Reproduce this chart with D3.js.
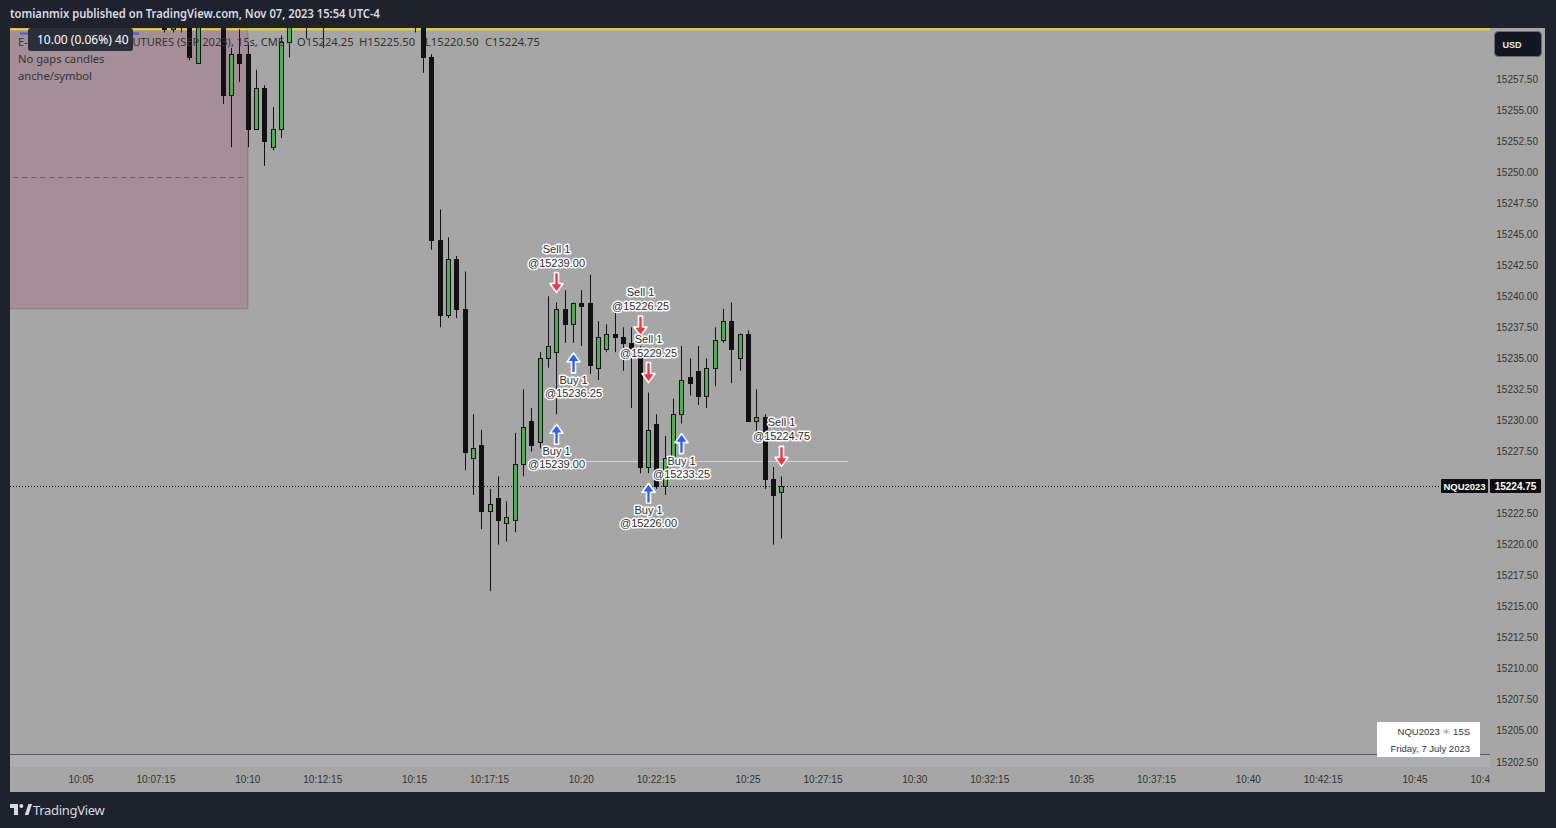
<!DOCTYPE html>
<html><head><meta charset="utf-8">
<script src="https://cdn.jsdelivr.net/npm/d3@7"></script>
<style>body{margin:0;background:#1e222d;} svg{display:block}</style>
</head><body><svg id="c" width="1556" height="828"></svg>
<script>
// ---------------- DATA ----------------
const barTimes = ["10:07:30","10:07:45","10:08:00","10:08:15","10:08:30","10:08:45","10:09:00","10:09:15","10:09:30","10:09:45",
"10:10:00","10:10:15","10:10:30","10:10:45","10:11:00","10:11:15","10:11:30","10:11:45","10:12:00","10:12:15",
"10:12:30","10:12:45","10:13:00","10:13:15","10:13:30","10:13:45","10:14:00","10:14:15","10:14:30","10:14:45",
"10:15:00","10:15:15","10:15:30","10:15:45","10:16:00","10:16:15","10:16:30","10:16:45","10:17:00","10:17:15",
"10:17:30","10:17:45","10:18:00","10:18:15","10:18:30","10:18:45","10:19:00","10:19:15","10:19:30","10:19:45",
"10:20:00","10:20:15","10:20:30","10:20:45","10:21:00","10:21:15","10:21:30","10:21:45","10:22:00","10:22:15",
"10:22:30","10:22:45","10:23:00","10:23:15","10:23:30","10:23:45","10:24:00","10:24:15","10:24:30","10:24:45",
"10:25:00","10:25:15","10:25:30","10:25:45","10:26:00"];
const opens = [15263.5,15261.5,15264,15262.5,15258.75,15262.75,15264,15263,15256.25,15259.5,
15259.5,15253.5,15256.75,15252,15253.5,15260.5,15263,15264.5,15263,15264,
15262.5,15265.5,15267.25,15266,15269,15268,15266.5,15267.75,15265.5,15264,
15265.75,15263.5,15259.25,15244.5,15238.5,15243,15239,15227,15228,15222.75,
15223.75,15221.75,15222,15226.5,15230,15228.25,15235,15235.5,15239,15237.75,
15239.5,15239.5,15234.25,15235.75,15237,15236.75,15236.25,15235.75,15226.25,15229.75,
15224.75,15227,15230.5,15233.5,15234,15232,15234.25,15236.5,15238,15235,
15237,15230,15230.25,15225.25,15224.25];
const highs = [15264.5,15264,15265,15263.5,15263.25,15265,15265.5,15263.5,15260,15261.5,
15260.25,15258.25,15257,15255.25,15261,15263.5,15265.5,15265,15265,15265.5,
15266,15268,15268.5,15269.5,15270.25,15269,15268.25,15268.75,15267,15266.25,
15266.5,15264.5,15259.5,15247,15244.75,15243.25,15242,15230.5,15229.25,15224.5,
15225.5,15223.5,15229,15232.5,15231,15235.5,15240,15239.5,15240.5,15239.5,
15240.5,15241.75,15238,15237.75,15238.75,15237.5,15237.5,15236,15232.25,15230.5,
15228.75,15231.75,15236,15235,15236,15235,15237.5,15239,15239.5,15237,
15237.25,15232.5,15230.5,15226.25,15225.5];
const lows = [15261.25,15261.25,15261.25,15259,15258.75,15262.25,15262,15255.5,15252,15257.25,
15252,15253.5,15250.5,15251.75,15252.75,15259.25,15262.5,15260.75,15262,15260,
15262,15264.75,15265.5,15265.75,15267.5,15266,15265.25,15265,15263.5,15262.75,
15261.25,15258,15243.75,15237.5,15238.25,15238.25,15226,15224,15221.25,15216.25,
15220,15220.25,15221,15225.5,15227.5,15227.75,15234.25,15230.5,15236.25,15236.25,
15236,15233.75,15233.25,15235.5,15235.5,15234,15231,15225.75,15225.75,15224.5,
15224,15226.5,15229.75,15232,15231.25,15231,15232.75,15236.25,15233,15234,
15230,15228.75,15224.5,15220,15220.5];
const closes = [15261.5,15263,15262.5,15259.25,15262.75,15264,15263,15256.25,15259.5,15258.75,
15253.5,15256.75,15252.5,15253.5,15260.5,15263,15264.5,15263,15264,15262.5,
15265.5,15267.25,15266,15269,15268,15266.5,15267.75,15265.5,15264,15265.75,
15263.5,15259.25,15244.5,15238.5,15243,15239,15227.5,15227.75,15222.75,15223.25,
15222,15222.25,15226.5,15229.5,15228,15235,15236,15239,15237.75,15239.5,
15239.25,15234.5,15236.75,15237,15236.75,15236.25,15235.75,15226.25,15229.25,15224.75,
15227,15230.5,15233.25,15233,15232,15234.25,15236.5,15238,15235.75,15237,
15230,15230.25,15225.25,15224,15224.75];

const tradeTimes  = ["10:19:15","10:19:15","10:19:45","10:21:45","10:22:00","10:22:00","10:23:00","10:26:00"];
const tradeSides  = ["Sell","Buy","Buy","Sell","Sell","Buy","Buy","Sell"];
const tradePrices = [15239.00,15239.00,15236.25,15226.25,15229.25,15226.00,15233.25,15224.75];

const yTickValues = [15202.5,15205,15207.5,15210,15212.5,15215,15217.5,15220,15222.5,15227.5,15230,
15232.5,15235,15237.5,15240,15242.5,15245,15247.5,15250,15252.5,15255,15257.5];
const xTickLabels = ["10:05","10:07:15","10:10","10:12:15","10:15","10:17:15","10:20","10:22:15","10:25","10:27:15",
"10:30","10:32:15","10:35","10:37:15","10:40","10:42:15","10:45","10:47:15"];

const lastPrice = 15224.75;
const avgLinePrice = 15226.75, avgLineStart = "10:18:24", avgLineEnd = "10:28:00";
const topLinePrice = 15261.5;
const zoneTimes = ["10:00:00","10:10:00"], zonePrices = [15239, 15275], zoneMid = 15249.625;
const legendTitle = "E-MINI NASDAQ 100 FUTURES (SEP 2023), 15s, CME";
const legendValues = ["O15224.25","H15225.50","L15220.50","C15224.75"];

// ---------------- SETUP ----------------
const sec = s => { const p = s.split(":").map(Number); return p[0]*3600 + p[1]*60 + (p[2]||0); };
const W = 1556, H = 828;
const pane = {x0:10, x1:1490, y0:28, y1:754};
const x = d3.scaleLinear().domain([sec("10:05"), sec("10:45")]).range([81, 1415]);
const y = d3.scaleLinear().domain([15202.5, 15257.5]).range([762, 79]);
const svg = d3.select("#c");
const FONT = "'Liberation Sans', Arial, sans-serif";
const BG = "#a6a6a6", DARK = "#1e222d";

svg.append("rect").attr("width", W).attr("height", H).attr("fill", DARK);
svg.append("rect").attr("x", 10).attr("y", pane.y0).attr("width", 1535).attr("height", 792 - pane.y0).attr("fill", BG);
svg.append("rect").attr("x", pane.x0).attr("y", pane.y1).attr("width", pane.x1 - pane.x0).attr("height", 13).attr("fill", "#adaeb1");
svg.append("line").attr("x1", pane.x0).attr("x2", pane.x1).attr("y1", pane.y1 + 0.5).attr("y2", pane.y1 + 0.5).attr("stroke", "#5a5a5a");

const defs = svg.append("defs");
defs.append("clipPath").attr("id", "paneClip").append("rect")
  .attr("x", pane.x0).attr("y", pane.y0).attr("width", pane.x1 - pane.x0).attr("height", pane.y1 - pane.y0);
defs.append("clipPath").attr("id", "timeClip").append("rect")
  .attr("x", pane.x0).attr("y", pane.y1).attr("width", pane.x1 - pane.x0).attr("height", 40);

const g = svg.append("g").attr("clip-path", "url(#paneClip)");

// zone rectangle
const zx0 = x(sec(zoneTimes[0])), zx1 = x(sec(zoneTimes[1]));
g.append("rect").attr("x", zx0).attr("y", y(zonePrices[1])).attr("width", zx1 - zx0)
  .attr("height", y(zonePrices[0]) - y(zonePrices[1])).attr("fill", "#a48f99")
  .attr("stroke", "#8a7a82").attr("stroke-width", 1);
g.append("line").attr("x1", zx0).attr("x2", zx1 - 4).attr("y1", Math.round(y(zoneMid)) + 0.5).attr("y2", Math.round(y(zoneMid)) + 0.5)
  .attr("stroke", "#6e6468").attr("stroke-dasharray", "5,4");

g.append("line").attr("x1", pane.x0).attr("x2", pane.x1).attr("y1", y(topLinePrice)).attr("y2", y(topLinePrice))
  .attr("stroke", "#f2d31b").attr("stroke-width", 2);
g.append("line").attr("x1", 20).attr("x2", 139).attr("y1", 33.5).attr("y2", 33.5).attr("stroke", "#2962ff").attr("stroke-width", 2);

g.append("line").attr("x1", x(sec(avgLineStart))).attr("x2", x(sec(avgLineEnd)))
  .attr("y1", Math.round(y(avgLinePrice)) + 0.5).attr("y2", Math.round(y(avgLinePrice)) + 0.5)
  .attr("stroke", "#e9dc6a").attr("stroke-width", 1);

g.append("line").attr("x1", pane.x0).attr("x2", 1440).attr("y1", Math.round(y(lastPrice)) + 0.5).attr("y2", Math.round(y(lastPrice)) + 0.5)
  .attr("stroke", "#111").attr("stroke-dasharray", "1,2");

// candles
const bars = barTimes.map((t, i) => ({t: sec(t), o: opens[i], h: highs[i], l: lows[i], c: closes[i]}));
const cg = g.append("g");
bars.forEach(b => {
  const cx = Math.round(x(b.t));
  const up = b.c >= b.o;
  cg.append("line").attr("x1", cx + 0.5).attr("x2", cx + 0.5).attr("y1", y(b.h)).attr("y2", y(b.l))
    .attr("stroke", "#111").attr("stroke-width", 1);
  const yt = Math.round(y(Math.max(b.o, b.c))), yb = Math.round(y(Math.min(b.o, b.c)));
  cg.append("rect").attr("x", cx - 1.5).attr("y", yt + 0.5).attr("width", 4).attr("height", Math.max(1, yb - yt))
    .attr("fill", up ? "#4caf50" : "#111").attr("stroke", "#111").attr("stroke-width", 1);
});

// trade markers
const arrowDown = "M-2,-20 L2,-20 L2,-9 L6.5,-9 L0,0 L-6.5,-9 L-2,-9 Z";
const arrowUp = "M-2,20 L2,20 L2,9 L6.5,9 L0,0 L-6.5,9 L-2,9 Z";
const tg = g.append("g");
function halo(sel, txt, tx, ty) {
  sel.append("text").attr("x", tx).attr("y", ty).attr("text-anchor", "middle").attr("dominant-baseline", "central")
    .attr("font-family", FONT).attr("font-size", 11).attr("fill", "#2b2b2b")
    .attr("stroke", "#ffffff").attr("stroke-width", 3).attr("stroke-linejoin", "round")
    .attr("paint-order", "stroke").text(txt);
}
tradeTimes.forEach((t, i) => {
  const ts = sec(t);
  const bar = bars.find(b => b.t === ts);
  const cx = Math.round(x(ts)) + 0.5;
  const label = tradeSides[i] + " 1", price = "@" + tradePrices[i].toFixed(2);
  if (tradeSides[i] === "Sell") {
    const tip = y(bar.h) - 10;
    tg.append("path").attr("d", arrowDown).attr("transform", `translate(${cx},${tip})`)
      .attr("fill", "#f23645").attr("stroke", "#fff").attr("stroke-width", 1.6).attr("stroke-linejoin", "round");
    halo(tg, price, cx, tip - 30);
    halo(tg, label, cx, tip - 44);
  } else {
    const tip = y(bar.l) + 10;
    tg.append("path").attr("d", arrowUp).attr("transform", `translate(${cx},${tip})`)
      .attr("fill", "#2962ff").attr("stroke", "#fff").attr("stroke-width", 1.6).attr("stroke-linejoin", "round");
    halo(tg, label, cx, tip + 27);
    halo(tg, price, cx, tip + 40);
  }
});

// legend
const lg = svg.append("g").attr("font-family", "'Noto Sans', sans-serif").attr("font-size", 11.2).attr("fill", "#333333");
lg.append("text").attr("x", 18).attr("y", 46).attr("textLength", 266).attr("lengthAdjust", "spacingAndGlyphs").text(legendTitle);
const legendX = [297, 359, 425, 485];
lg.selectAll("text.v").data(legendValues).join("text").attr("class", "v")
  .attr("x", (d, i) => legendX[i]).attr("y", 46).text(d => d);
lg.append("text").attr("x", 18).attr("y", 63).text("No gaps candles");
lg.append("text").attr("x", 18).attr("y", 80).text("anche/symbol");

// tooltip
svg.append("rect").attr("x", 28).attr("y", 28).attr("width", 105).attr("height", 23).attr("rx", 3).attr("fill", "#2a2e39");
svg.append("text").attr("x", 37).attr("y", 44).attr("font-family", "'Noto Sans', sans-serif").attr("font-size", 12)
  .attr("fill", "#ffffff").text("10.00 (0.06%) 40");

// y axis labels
svg.append("g").selectAll("text").data(yTickValues).join("text")
  .attr("x", 1538).attr("y", d => y(d)).attr("text-anchor", "end").attr("dominant-baseline", "central")
  .attr("font-family", FONT).attr("font-size", 10).attr("fill", "#333").text(d => d.toFixed(2));

// x axis labels
svg.append("g").attr("clip-path", "url(#timeClip)").selectAll("text").data(xTickLabels).join("text")
  .attr("x", d => x(sec(d))).attr("y", 779).attr("text-anchor", "middle").attr("dominant-baseline", "central")
  .attr("font-family", FONT).attr("font-size", 10).attr("fill", "#333").text(d => d);

// price labels
const ly = Math.round(y(lastPrice));
svg.append("rect").attr("x", 1441).attr("y", ly - 7).attr("width", 47).attr("height", 14).attr("rx", 1).attr("fill", "#0c0c0c");
svg.append("text").attr("x", 1464.5).attr("y", ly).attr("text-anchor", "middle").attr("dominant-baseline", "central")
  .attr("font-family", FONT).attr("font-size", 9.5).attr("font-weight", "bold").attr("fill", "#fff").text("NQU2023");
svg.append("rect").attr("x", 1490).attr("y", ly - 7).attr("width", 51).attr("height", 14).attr("rx", 1).attr("fill", "#0c0c0c");
svg.append("text").attr("x", 1515.5).attr("y", ly).attr("text-anchor", "middle").attr("dominant-baseline", "central")
  .attr("font-family", FONT).attr("font-size", 10).attr("font-weight", "bold").attr("fill", "#fff").text(lastPrice.toFixed(2));

// USD button
svg.append("rect").attr("x", 1494.5).attr("y", 31.5).attr("width", 47).attr("height", 25).attr("rx", 4)
  .attr("fill", "#131722").attr("stroke", "#6a6d78");
svg.append("text").attr("x", 1512).attr("y", 44.5).attr("text-anchor", "middle").attr("dominant-baseline", "central")
  .attr("font-family", FONT).attr("font-size", 9).attr("font-weight", "bold").attr("fill", "#e8e8e8").text("USD");

// info box
svg.append("rect").attr("x", 1377).attr("y", 722).attr("width", 103).attr("height", 35).attr("fill", "#ffffff");
const ib = svg.append("g").attr("font-family", FONT).attr("font-size", 9.5).attr("fill", "#333").attr("text-anchor", "end");
const t1 = ib.append("text").attr("x", 1470).attr("y", 735);
t1.append("tspan").text("NQU2023 ");
t1.append("tspan").attr("fill", "#999").attr("font-family", "'DejaVu Sans', sans-serif").text("✳");
t1.append("tspan").text(" 15S");
ib.append("text").attr("x", 1470).attr("y", 751.5).text("Friday, 7 July 2023");

// header
svg.append("text").attr("x", 10).attr("y", 18).attr("font-family", "'Noto Sans', sans-serif").attr("font-size", 12)
  .attr("font-weight", 600).attr("fill", "#d8dbe2").attr("textLength", 370).attr("lengthAdjust", "spacingAndGlyphs")
  .text("tomianmix published on TradingView.com, Nov 07, 2023 15:54 UTC-4");

// logo
const logo = svg.append("g").attr("fill", "#d8dbe2");
logo.append("path").attr("d", "M10 804h8v11h-4v-7h-4z");
logo.append("circle").attr("cx", 21.3).attr("cy", 806).attr("r", 2);
logo.append("path").attr("d", "M24.8 815 L28.4 804 L32 804 L28.4 815 Z");
svg.append("text").attr("x", 33).attr("y", 815).attr("font-family", "'Noto Sans', sans-serif").attr("font-size", 13)
  .attr("letter-spacing", "-0.3").attr("fill", "#d8dbe2").text("TradingView");
</script></body></html>
